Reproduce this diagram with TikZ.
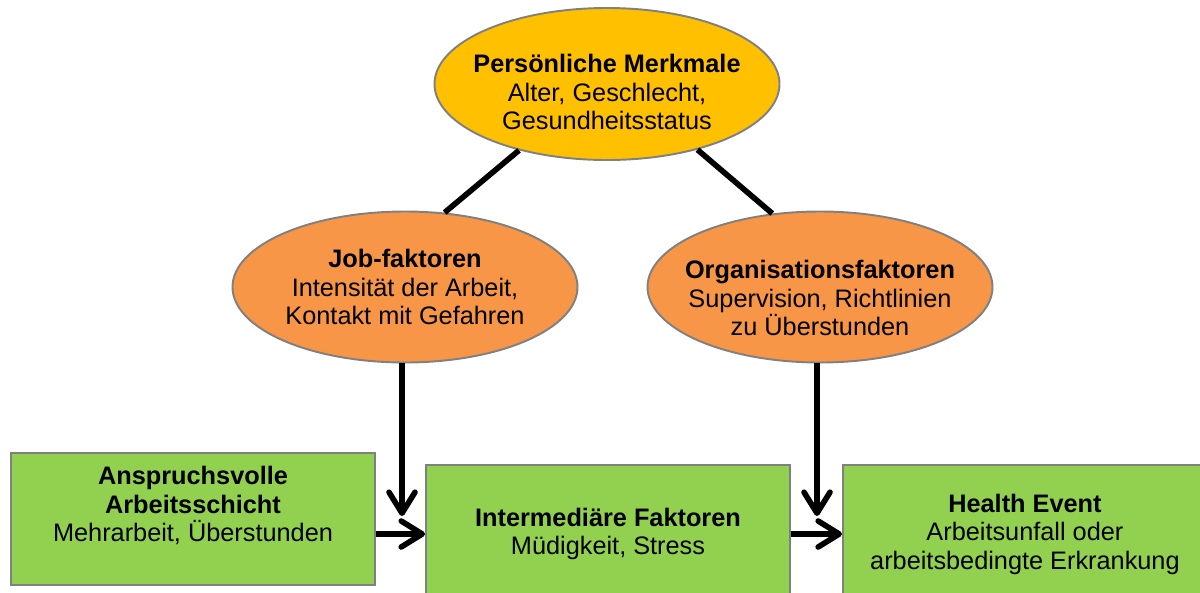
\documentclass[tikz,border=0pt]{standalone}
\usepackage{fontspec}
\setmainfont{Liberation Sans}
\usetikzlibrary{arrows.meta,positioning,shapes.geometric}
\definecolor{gelbgold}{HTML}{FFC000}
\definecolor{orangeton}{HTML}{F79646}
\definecolor{gruenton}{HTML}{92D050}
\definecolor{rand}{HTML}{808080}
\newcommand{\padtop}[1]{\rule{0pt}{#1}}
\newcommand{\padbot}[1]{\rule[-#1]{0pt}{#1}}

\begin{document}
\begin{tikzpicture}[x=0.2mm, y=-0.2mm, font=\fontsize{14.4}{16.2}\selectfont,
	oval/.style={ellipse, draw=rand, line width=1.1pt, inner xsep=-8pt, inner ysep=-2pt,
		minimum width=69mm, minimum height=30.2mm, align=center},
	feld/.style={draw=rand, fill=gruenton, line width=1.1pt, inner sep=0pt,
		minimum width=72.8mm, align=center},
	pfeil/.style={line width=3.2pt, -{Straight Barb[length=4.2mm, width=5.2mm, round]}},
	verbindung/.style={line width=3.2pt}]
			\clip (0,0) rectangle (1200,592);
			\node[oval, fill=gelbgold, minimum height=30.4mm] (person) at (607,84)
			{\padtop{19.5pt}\textbf{Persönliche Merkmale}\\Alter, Geschlecht,\\Gesundheitsstatus};
			\node[oval, fill=orangeton] (job) at (405,287)
			{\textbf{Job-faktoren}\\Intensität der Arbeit,\\Kontakt mit Gefahren};
			\node[oval, fill=orangeton] (org) at (820,287)
			{\padtop{23pt}\textbf{Organisationsfaktoren}\\Supervision, Richtlinien\\zu Überstunden};
			\node[feld, minimum height=26.4mm] (schicht) at (193,519)
			{\textbf{Anspruchsvolle}\\\textbf{Arbeitsschicht}\\Mehrarbeit, Überstunden\padbot{17pt}};
			\node[feld, minimum height=27.6mm] (mitte) at (608,534)
			{\textbf{Intermediäre Faktoren}\\Müdigkeit, Stress};
			\node[feld, minimum height=27.6mm, right=10.2mm of mitte] (event)
			{\textbf{Health Event}\\Arbeitsunfall oder\\arbeitsbedingte Erkrankung};
			% arrow ends above the boxes
			\coordinate (jobspitze) at (402,516);
			\coordinate (orgspitze) at (817,516);
			\draw[verbindung] (person.217) -- (job.62);
			\draw[verbindung] (person.324) -- (org.123);
			\draw[pfeil] (jobspitze |- job.south) -- (jobspitze);
			\draw[pfeil] (orgspitze |- org.south) -- (orgspitze);
			\draw[pfeil] (schicht.east |- mitte.west) -- (mitte.west);
			\draw[pfeil] (mitte.east) -- (event.west);
		\end{tikzpicture}
\end{document}
